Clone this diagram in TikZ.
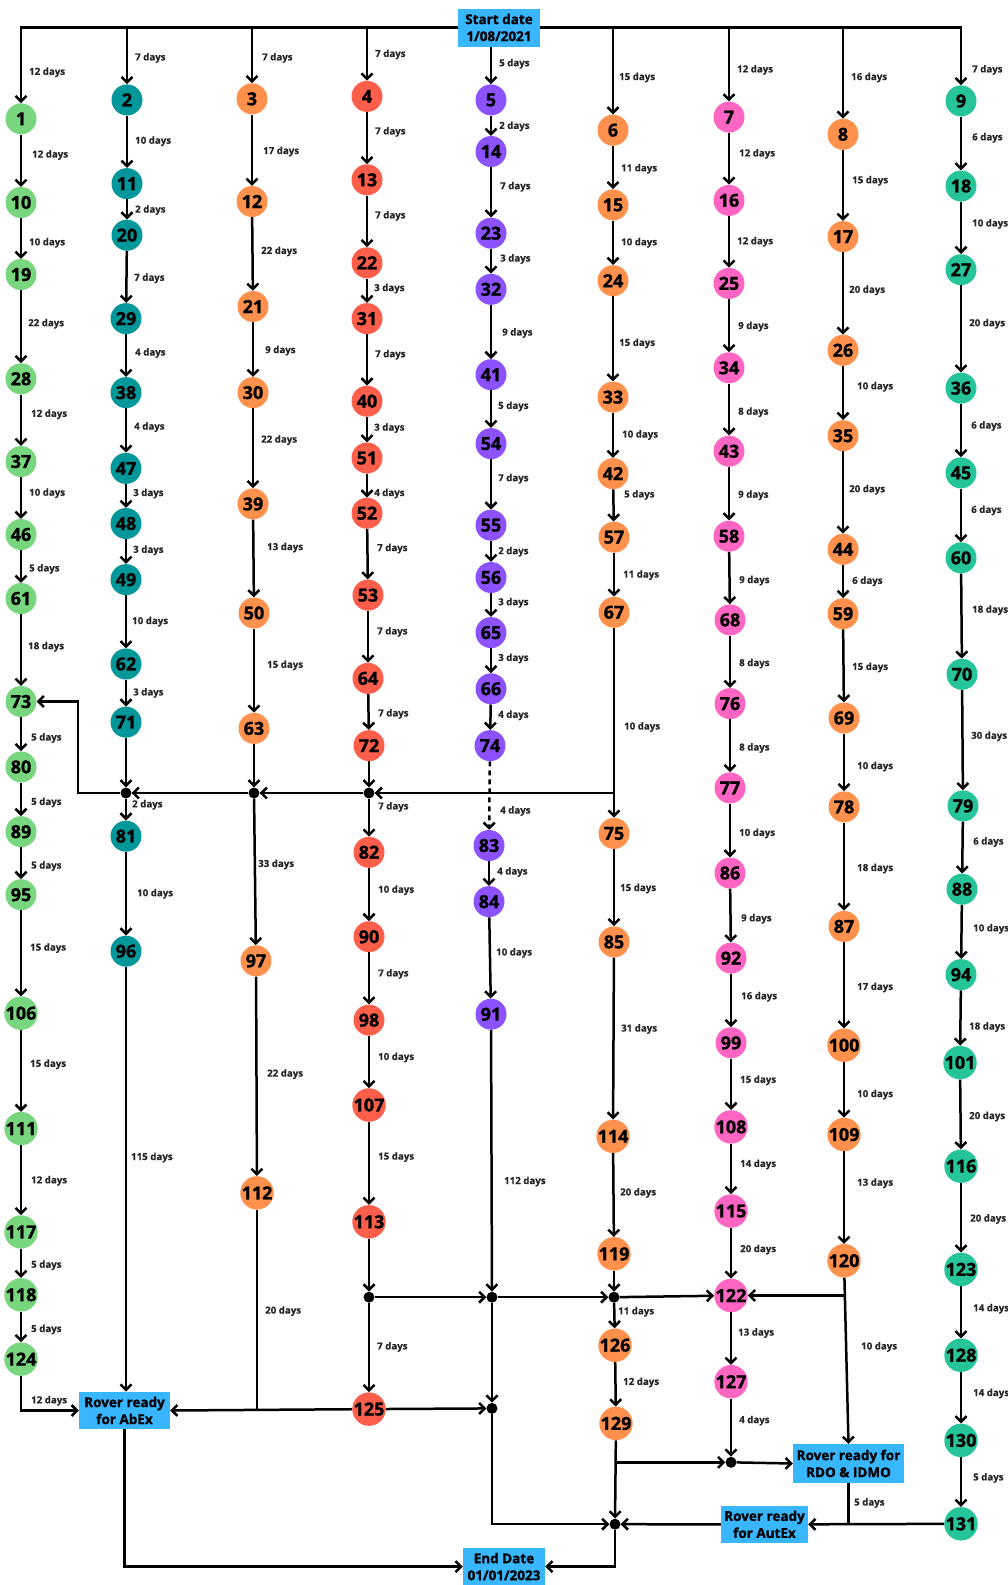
\documentclass[tikz,border=0pt]{standalone}
\usepackage{fontspec}
\setmainfont{Open Sans}
\newfontfamily\numfont[BoldFeatures={FakeBold=1.2}]{Open Sans}
\newfontfamily\labfont[BoldFeatures={FakeBold=0.4}]{Open Sans}
\usetikzlibrary{arrows.meta}
\definecolor{cA}{HTML}{78D67E}
\definecolor{cB}{HTML}{00979A}
\definecolor{cO}{HTML}{FF914D}
\definecolor{cR}{HTML}{FF5E4B}
\definecolor{cP}{HTML}{8C52FF}
\definecolor{cK}{HTML}{FF66C4}
\definecolor{cI}{HTML}{26C499}
\definecolor{cBox}{HTML}{38B6FF}
\begin{document}
\begin{tikzpicture}[x=1pt,y=-1pt,
 num/.style={circle,minimum size=31pt,inner sep=0pt,font=\numfont\bfseries\fontsize{18}{18}\selectfont},
 lab/.style={anchor=west,inner sep=0pt,text=black!85,font=\labfont\bfseries\fontsize{9.7}{10}\selectfont},
 arr/.style={line width=2.5pt,-{Straight Barb[length=5.5pt,width=11pt]}},
 ln/.style={line width=2.5pt},
 dot/.style={circle,fill=black,minimum size=11pt,inner sep=0pt},
 box/.style={fill=cBox,inner sep=0pt,align=center,font=\numfont\bfseries\fontsize{13.5}{17}\selectfont}]
\useasboundingbox (0,0) rectangle (1007,1585);
\fill[white] (0,0) rectangle (1007,1585);

% boxes
\node[box,minimum width=82pt,minimum height=38pt] (start) at (499,27.5) {Start date\\1/08/2021};
\node[box,minimum width=82pt,minimum height=37pt] (end) at (504,1566.6) {End Date\\01/01/2023};
\node[box,minimum width=91pt,minimum height=37.5pt] (abex) at (124.5,1410.5) {Rover ready\\for AbEx};
\node[box,minimum width=111pt,minimum height=39pt] (rdo) at (848.5,1463.5) {Rover ready for\\RDO \& IDMO};
\node[box,minimum width=87pt,minimum height=37pt] (autex) at (764.5,1524.3) {Rover ready\\for AutEx};

% column A
\foreach \n/\y in {1/118.8,10/202.5,19/274.5,28/378.8,37/461.5,46/534.5,61/598.5,73/701.5,80/766.9,89/831.7,95/894.7,106/1013.2,111/1128.6,117/1231.9,118/1294.8,124/1359.1}
  \node[num,fill=cA] (n\n) at (21,\y) {\n};
% column B
\foreach \n/\x/\y in {2/127/99.9,11/127/183.6,20/127/235.2,29/126/318.6,38/126/392.6,47/126/468.4,48/126/523.5,49/126/579.6,62/126/664,71/126/722.2,81/126/836.2,96/126/951.2}
  \node[num,fill=cB] (n\n) at (\x,\y) {\n};
% column C
\foreach \n/\x/\y in {3/252/98.8,12/252/201.5,21/253/306.5,30/253/392.6,39/253/503.9,50/254/613,63/254/728.4,97/256/960.8,112/257/1192.9}
  \node[num,fill=cO] (n\n) at (\x,\y) {\n};
% column D
\foreach \n/\x/\y in {4/367/96.4,13/367/179.8,22/367/262.8,31/367/318.6,40/367/401.2,51/367/458,52/367/513.2,53/368/595.1,64/368/678.4,72/369/745.6,82/369/852.3,90/369/936.7,98/369/1020.1,107/369/1105,113/369/1221.8,125/369/1409.1}
  \node[num,fill=cR] (n\n) at (\x,\y) {\n};
% column E
\foreach \n/\x/\y in {5/491/99.9,14/491/151.5,23/491/233.2,32/491/289.3,41/491/374.7,54/491/443.6,55/491/525.2,56/491/577.5,65/491/632.6,66/491/688.8,74/490/745.6,83/489/845.5,84/489/901.6,91/491/1014.2}
  \node[num,fill=cP] (n\n) at (\x,\y) {\n};
% column F
\foreach \n/\x/\y in {6/613/130.2,15/613/204.9,24/613/280.7,33/613/397.1,42/613/473.6,57/614/537.2,67/614/612.3,75/614/833.4,85/614/941.9,114/613/1136.3,119/614/1253.8,126/615/1345.2,129/616/1423.4}
  \node[num,fill=cO] (n\n) at (\x,\y) {\n};
% column G
\foreach \n/\x/\y in {7/729/117.1,16/729/200.4,25/729/283.4,34/729/367.8,43/729/451.2,58/729/536.2,68/730/619.9,76/730/703.6,77/730/787.9,86/730/873,92/731/958.1,99/731/1042.8,108/731/1126.9,115/731/1211,122/731/1295.5,127/731/1381.7}
  \node[num,fill=cK] (n\n) at (\x,\y) {\n};
% column H
\foreach \n/\x/\y in {8/843/134.3,17/843/236.6,26/843/350.3,35/843/435.7,44/843/549.3,59/843/613.7,69/844/718,78/844/806.9,87/844/926.4,100/844/1045.2,109/844/1134.5,120/844/1260.7}
  \node[num,fill=cO] (n\n) at (\x,\y) {\n};
% column I
\foreach \n/\x/\y in {9/961/100.9,18/961/186,27/961/269.7,36/961/388.1,45/961/472.9,60/961/557.9,70/962/674.3,79/963/805.9,88/962/889.2,94/961/974.6,101/960/1062.6,116/961/1166.2,123/961/1269.4,128/961/1355.2,130/961/1440.4,131/961/1523.8}
  \node[num,fill=cI] (n\n) at (\x,\y) {\n};

% junction dots
\node[dot] (jB) at (126,793) {};
\node[dot] (jC) at (254,793) {};
\node[dot] (jD) at (369,793) {};
\node[dot] (jD2) at (369,1297.2) {};
\node[dot] (jE2) at (492,1297.2) {};
\node[dot] (jE3) at (492,1408.4) {};
\node[dot] (jF2) at (614,1297.2) {};
\node[dot] (jFin) at (615,1524.2) {};
\node[dot] (jG) at (731,1462.3) {};

% chain edges with labels
\foreach \p/\q/\dd/\lx/\ly in {
 1/10/12/32/155, 10/19/10/29/242.8, 19/28/22/28/323.7, 28/37/12/31/414.3, 37/46/10/29/493.2, 46/61/5/29/568.9, 61/73/18/28/646.7, 73/80/5/31/738, 80/89/5/31/802.4, 89/95/5/31/866.1, 95/106/15/30/948.1, 106/111/15/30/1064.3, 111/117/12/31/1180.8, 117/118/5/31/1265.2, 118/124/5/31/1329.5,
 2/11/10/135/141.2, 11/20/2/135/210.1, 20/29/7/134/278.3, 29/38/4/135/353, 38/47/4/134/427.1, 47/48/3/133/493.5, 48/49/3/133/550.3, 49/62/10/132/621.6, 62/71/3/133/692.9, 81/96/10/137/893.7,
 3/12/17/263/151.5, 12/21/22/261/251.4, 21/30/9/265/350.6, 30/39/22/261/440.1, 39/50/13/267/547.6, 50/63/15/267/665.3, 97/112/22/267/1074.1,
 4/13/7/375/131.9, 13/22/7/375/215.9, 22/31/3/374/288.6, 31/40/7/375/354.7, 40/51/3/374/428.1, 51/52/4/374/493.5, 52/53/7/377/548.6, 53/64/7/377/631.9, 64/72/7/378/713.9, 82/90/10/378/890.2, 90/98/7/378/973.9, 98/107/10/378/1057.4, 107/113/15/378/1157.1,
 5/14/2/499/126.4, 14/23/7/500/186.7, 23/32/3/500/259, 32/41/9/502/333, 41/54/5/498/406.4, 54/55/7/498/478.7, 55/56/2/498/551.7, 56/65/3/498/602.7, 65/66/3/498/658.4, 66/74/4/498/715.3, 83/84/4/497/872, 84/91/10/496/952.9,
 6/15/11/621/168.8, 15/24/10/621/242.8, 24/33/15/619/343.4, 33/42/10/622/435, 42/57/5/624/494.9, 57/67/11/623/575.1, 67/75/10/624/727, 75/85/15/620/888.5, 85/114/31/621/1029, 114/119/20/620/1192.9, 126/129/12/623/1382.4,
 7/16/12/739/153.9, 16/25/12/737/241.8, 25/34/9/738/326.5, 34/43/8/738/412.2, 43/58/9/738/495.2, 58/68/9/739/580.6, 68/76/8/739/663.6, 76/77/8/739/748, 77/86/10/739/833.4, 86/92/9/741/918.8, 92/99/16/741/996.7, 99/108/15/740/1080.3, 108/115/14/740/1164.4, 115/122/20/740/1249.6, 122/127/13/738/1333,
 8/17/15/852/180.8, 17/26/20/849/290.3, 26/35/10/857/386.8, 35/44/20/849/489.7, 44/59/6/852/581.3, 59/69/15/852/667.4, 69/78/10/857/766.6, 78/87/18/857/868.5, 87/100/17/857/987.4, 100/109/10/857/1094.6, 109/120/13/857/1183.2,
 9/18/6/972/137.8, 18/27/10/972/223.9, 27/36/20/969/323.7, 36/45/6/971/426, 45/60/6/971/510.4, 60/70/18/972/610.2, 70/79/30/971/736.3, 79/88/6/973/842, 88/94/10/973/928.8, 94/101/18/969/1027, 101/116/20/969/1116.5, 116/123/20/970/1219, 123/128/14/973/1308.7, 128/130/14/973/1393.5, 130/131/5/973/1477.9}
 {\draw[arr] (n\p) -- (n\q);
  \node[lab] (L\p-\q) at (\lx,\ly) {\dd{} days};}

% top distribution
\draw[arr] (start.west) -| (n1);
\draw[arr] (start.east) -| (n9);
\foreach \t in {2,3,4} \draw[arr] (n\t |- start.west) -- (n\t);
\foreach \t in {6,7,8} \draw[arr] (n\t |- start.east) -- (n\t);
\draw[arr] (start.south -| n5) -- (n5);
\foreach \t/\dd/\lx/\ly in {1/12/29/72.3, 2/7/135/57.9, 3/7/262/57.9, 4/7/375/54.4, 5/5/499/63.7, 6/15/619/77.5, 7/12/737/69.9, 8/16/851/77.5, 9/7/972/69.9}
  \node[lab] (Ls\t) at (\lx,\ly) {\dd{} days};

% middle merge
\draw[arr] (n71) -- (jB);
\draw[arr] (jB) -- (n81);
\node[lab] (LjB) at (132,804.8) {2 days};
\draw[arr] (n63) -- (jC);
\draw[arr] (jC) -- (n97);
\node[lab] (LjC) at (258,864.4) {33 days};
\draw[arr] (n72) -- (jD);
\draw[arr] (jD) -- (n82);
\node[lab] (LjD) at (378,806.9) {7 days};
\coordinate (jF) at (n67 |- jD);
\draw[arr] (jF) -- (jD);
\draw[arr] (jD) -- (jC);
\draw[arr] (jC) -- (jB);
\coordinate (kA) at (78,793);
\draw[arr] (jB) -- (kA) |- (n73);
\draw[arr,dashed,dash pattern=on 5pt off 4pt] (n74) -- (n83);
\node[lab] (L74) at (500,811) {4 days};

% bottom
\draw[arr] (n124) |- (abex.west);
\node[lab] (L124) at (31,1400.8) {12 days};
\draw[arr] (n96) -- (n96 |- abex.north);
\node[lab] (L96) at (131,1157.5) {115 days};
\coordinate (jC2) at (n112 |- abex.east);
\draw[ln] (n112) -- (jC2);
\node[lab] (L112) at (265,1311.1) {20 days};
\draw[arr] (n125) -- (abex.east);
\draw[arr] (n113) -- (jD2);
\draw[arr] (jD2) -- (n125);
\node[lab] (LjD2) at (377,1346.9) {7 days};
\draw[arr] (jD2) -- (jE2);
\draw[arr] (n91) -- (jE2);
\node[lab] (L91) at (504,1181.5) {112 days};
\draw[arr] (jE2) -- (jE3);
\draw[arr] (n125) -- (jE3);
\draw[arr] (jE2) -- (jF2);
\draw[arr] (n119) -- (jF2);
\draw[arr] (jF2) -- (n122);
\draw[arr] (jF2) -- (n126);
\node[lab] (LjF2) at (618,1311.8) {11 days};
\draw[arr] (n129) -- (jFin);
\coordinate (kF) at (n129 |- jG);
\draw[arr] (kF) -- (jG);
\draw[arr] (n127) -- (jG);
\node[lab] (L127) at (739,1420.6) {4 days};
\draw[arr] (jG) -- (rdo.west);
\draw[arr] (n120) -- (rdo.north);
\node[lab] (L120) at (861,1346.9) {10 days};
\coordinate (kH) at (n120 |- n122);
\draw[arr] (kH) -- (n122);
\coordinate (kR) at (rdo.south |- autex.east);
\draw[ln] (rdo.south) -- (kR);
\node[lab] (Lrdo) at (854,1503) {5 days};
\draw[arr] (n131) -- (autex.east);
\draw[arr] (autex.west) -- (jFin);
\draw[arr] (jE3) |- (jFin);
\draw[arr] (jFin) |- (end.east);
\draw[arr] (abex.south) |- (end.west);
\end{tikzpicture}
\end{document}
